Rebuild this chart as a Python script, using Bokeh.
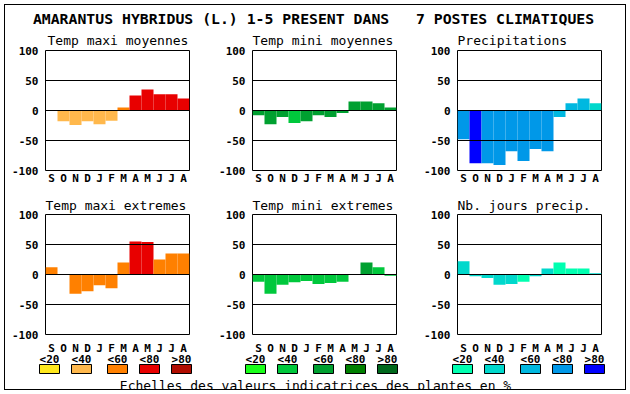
from bokeh.plotting import figure
from bokeh.layouts import column, row
from bokeh.models import Range1d, FixedTicker, Span
from bokeh.embed import file_html
from bokeh.resources import INLINE
from bokeh.core.properties import value

FONT = "DejaVu Sans Mono"

# ---------------- data ----------------
title_text = "AMARANTUS HYBRIDUS (L.) 1-5 PRESENT DANS\u00a0\u00a0\u00a07 POSTES CLIMATIQUES"
footer_text = "Echelles des valeurs indicatrices des plantes en %"
months = ["S", "O", "N", "D", "J", "F", "M", "A", "M", "J", "J", "A"]
y_ticks = [-100, -50, 0, 50, 100]
y_tick_labels = ["-100", "-50", "0", "50", "100"]
grid_levels = [-50, 0, 50]
legend_labels = ["<20", "<40", "<60", "<80", ">80"]

pal_tmax = ["#ffe81c", "#ffb84c", "#ff8000", "#e80000", "#b00c00"]
pal_tmin = ["#1aff1a", "#00c83c", "#00a030", "#008000", "#00681c"]
pal_prec = ["#00ffb0", "#00d8cc", "#00b8e0", "#0098e8", "#0000ff"]

t1 = "Temp maxi moyennes"
v1 = [0, -18, -24, -18, -23, -17, 5, 25, 35, 27, 27, 20]
c1 = [1, 1, 1, 1, 1, 1, 2, 3, 3, 3, 3, 3]

t2 = "Temp mini moyennes"
v2 = [-8, -23, -11, -21, -18, -8, -11, -4, 15, 15, 12, 5]
c2 = [2, 2, 2, 1, 2, 2, 2, 2, 2, 2, 2, 2]

t3 = "Precipitations"
v3 = [-48, -88, -88, -91, -68, -84, -64, -68, -11, 12, 20, 12]
c3 = [3, 4, 3, 3, 3, 3, 3, 3, 2, 2, 2, 1]

t4 = "Temp maxi extremes"
v4 = [12, 0, -32, -28, -18, -23, 20, 55, 54, 25, 35, 35]
c4 = [2, 2, 2, 2, 2, 2, 2, 3, 3, 2, 2, 2]

t5 = "Temp mini extremes"
v5 = [-12, -32, -17, -13, -11, -16, -14, -12, 0, 20, 12, -2]
c5 = [1, 1, 1, 1, 1, 1, 1, 1, 1, 2, 1, 1]

t6 = "Nb. jours precip."
v6 = [22, -3, -6, -17, -16, -12, -3, 10, 20, 10, 10, 2]
c6 = [1, 1, 1, 1, 1, 0, 1, 1, 0, 0, 0, 1]

# ---------------- layout constants ----------------
FW, FH = 144, 120
col_left = [40, 42, 41]
col_right = [21, 20, 24]
INNER_X0 = 5
INNER_W = 620
col_widths = [l + FW + r for l, r in zip(col_left, col_right)]
frame_lefts = [INNER_X0 + sum(col_widths[:k]) + col_left[k] for k in range(3)]
BAR_PX = FW / len(months)


def panel(sub, vals, cls, pal, idx, top, bottom, standoff, offset, show_x):
    p = figure(frame_width=FW, frame_height=FH,
               x_range=Range1d(0, 12), y_range=Range1d(-100, 100),
               toolbar_location=None, output_backend="svg",
               x_axis_location="below" if show_x else None,
               min_border_left=col_left[idx], min_border_right=col_right[idx],
               min_border_top=top, min_border_bottom=bottom)
    p.title.text = sub
    p.title.text_font = FONT
    p.title.text_font_size = "13px"
    p.title.text_font_style = "normal"
    p.title.text_color = "black"
    p.title.align = "left"
    p.title.offset = offset
    p.title.standoff = standoff
    xs = [i + 0.5 for i in range(len(months))]
    p.vbar(x=xs, width=1, top=vals, bottom=0,
           fill_color=[pal[c] for c in cls], line_color=None)
    for g in grid_levels:
        p.add_layout(Span(location=g, dimension="width",
                          line_color="black", line_width=1))
    p.xgrid.visible = False
    p.ygrid.visible = False
    p.outline_line_color = "black"
    p.outline_line_width = 1
    p.background_fill_color = "white"
    p.border_fill_color = "white"
    axes = [p.yaxis[0]] + ([p.xaxis[0]] if show_x else [])
    for ax in axes:
        ax.axis_line_color = None
        ax.major_tick_line_color = None
        ax.minor_tick_line_color = None
        ax.major_tick_out = 0
        ax.major_tick_in = 0
        ax.minor_tick_out = 0
        ax.minor_tick_in = 0
        ax.major_label_text_font = FONT
        ax.major_label_text_font_size = "11px"
        ax.major_label_text_font_style = "bold"
        ax.major_label_text_color = "black"
    if show_x:
        xa = p.xaxis[0]
        xa.ticker = FixedTicker(ticks=xs)
        xa.major_label_overrides = {x: m for x, m in zip(xs, months)}
        xa.major_label_standoff = 1
    ya = p.yaxis[0]
    ya.ticker = FixedTicker(ticks=y_ticks)
    ya.major_label_overrides = {t: l for t, l in zip(y_ticks, y_tick_labels)}
    ya.major_label_standoff = 7
    return p


# title strip: screen rows 5..26
tf = figure(width=INNER_W, height=21, x_range=Range1d(5, 625), y_range=Range1d(26, 5),
            toolbar_location=None, output_backend="svg",
            x_axis_location=None, y_axis_location=None, min_border=0)
tf.grid.visible = False
tf.outline_line_color = None
tf.text(x=[313], y=[17.5], text=[title_text], text_align="center",
        text_baseline="middle", text_font=value(FONT),
        text_font_size="14.8px", text_font_style="bold", text_color="black")

# row 1: screen rows 26..191 ; row 2: 191..339 (month letters in strip below)
row1 = row(panel(t1, v1, c1, pal_tmax, 0, 24, 21, 5, 2, True),
           panel(t2, v2, c2, pal_tmin, 1, 24, 21, 5, 0, True),
           panel(t3, v3, c3, pal_prec, 2, 24, 21, 5, 0, True))
row2 = row(panel(t4, v4, c4, pal_tmax, 0, 23, 5, 4, 0, False),
           panel(t5, v5, c5, pal_tmin, 1, 23, 5, 4, 0, False),
           panel(t6, v6, c6, pal_prec, 2, 23, 5, 4, 0, False))

# bottom strip: screen rows 339..388 -> month letters of the bottom row,
# colour scales and the caption
LEG_TOP, LEG_BOT = 339, 389
lf = figure(width=INNER_W, height=LEG_BOT - LEG_TOP,
            x_range=Range1d(5, 625), y_range=Range1d(LEG_BOT, LEG_TOP),
            toolbar_location=None, output_backend="svg",
            x_axis_location=None, y_axis_location=None, min_border=0)
lf.grid.visible = False
lf.outline_line_color = None
lf.background_fill_color = "white"
lf.border_fill_color = "white"

month_y = 348
for fl in frame_lefts:
    lf.text(x=[fl + (i + 0.5) * BAR_PX for i in range(len(months))],
            y=[month_y] * len(months), text=months,
            text_align="center", text_baseline="alphabetic", text_font=value(FONT),
            text_font_size="11px", text_font_style="bold", text_color="black")

group_starts = [39, 245, 452]
item_offsets = [0, 32, 68, 100, 132]
sw_w, sw_top, sw_bot, lab_y = 20, 364, 373, 358.5
for gs, pal in zip(group_starts, [pal_tmax, pal_tmin, pal_prec]):
    lefts = [gs + o for o in item_offsets]
    lf.quad(left=lefts, right=[l + sw_w for l in lefts],
            top=[sw_top] * 5, bottom=[sw_bot] * 5,
            fill_color=pal, line_color="black", line_width=1)
    lf.text(x=[l + sw_w / 2 for l in lefts], y=[lab_y] * 5, text=legend_labels,
            text_align="center", text_baseline="alphabetic", text_font=value(FONT),
            text_font_size="11px", text_font_style="bold", text_color="black")
lf.text(x=[315], y=[384.5], text=[footer_text], text_align="center",
        text_baseline="alphabetic", text_font=value(FONT),
        text_font_size="13px", text_color="black")

layout = column(tf, row1, row2, lf,
                styles={"border": "1px solid black", "margin": "4px 4px 0px 4px",
                        "background-color": "white"})

open("out.html", "w").write(file_html(layout, INLINE))
